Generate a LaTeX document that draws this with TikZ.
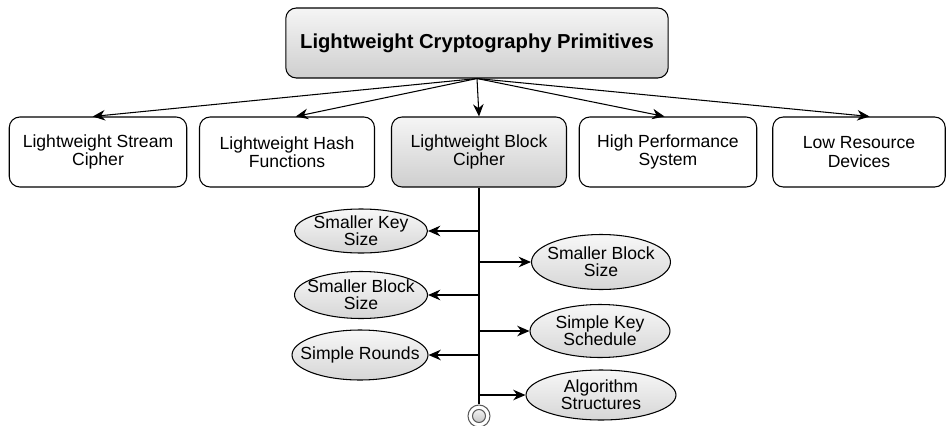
\documentclass[tikz,border=0pt]{standalone}
\usepackage{fontspec}
\setmainfont{Liberation Sans}
\usetikzlibrary{shapes.geometric,arrows.meta}

\begin{document}
\begin{tikzpicture}[x=0.02cm, y=-0.02cm, line width=0.6pt,
  every node/.style={font=\fontsize{10}{10.5}\selectfont},
  box/.style={draw, rounded corners=6pt, minimum width=3.55cm, minimum height=1.4cm, align=center},
  shadebox/.style={box, top color=gray!8, bottom color=gray!38},
  feat/.style={ellipse, draw, top color=gray!6, bottom color=gray!32, minimum width=2.7cm, minimum height=0.95cm},
  ftext/.style={align=center, font=\fontsize{10}{9.5}\selectfont},
  link/.style={-{Stealth[length=7pt,width=6pt]}}]
\useasboundingbox (0,0) rectangle (947,426);
\node[shadebox, minimum width=7.65cm, font=\fontsize{11.5}{13}\selectfont\bfseries] (top) at (477,43) {Lightweight Cryptography Primitives};
\node[box] (b1) at (98,152) {Lightweight Stream\\Cipher};
\node[box, minimum width=3.5cm] (b2) at (287,152) {Lightweight Hash\\Functions};
\node[shadebox, minimum width=3.5cm] (b3) at (479,152) {Lightweight Block\\Cipher};
\node[box] (b4) at (668,152) {High Performance\\System};
\node[box, minimum width=3.45cm] (b5) at (859,152) {Low Resource\\Devices};

\foreach \b/\dx in {b1/-3pt,b2/5pt,b3/0pt,b4/-2pt,b5/6pt}
  \draw[link] (top.south) -- ([xshift=\dx]\b.north);

\node[circle, draw=gray!70!black, minimum size=0.44cm, inner sep=0pt] (endpt) at (479,416) {};
\node[circle, draw=gray!70!black, top color=gray!10, bottom color=gray!45, minimum size=0.26cm, inner sep=0pt] (endin) at (endpt) {};
\draw (b3.south) -- (endpt.north);

\node[feat, minimum width=2.66cm, minimum height=0.88cm, label={[ftext]center:Smaller Key\\Size}] (l1) at (361,231) {};
\node[feat, minimum width=2.66cm, minimum height=0.94cm, label={[ftext]center:Smaller Block\\Size}] (l2) at (361,295) {};
\node[feat, minimum width=2.72cm, minimum height=1.0cm, label={[ftext]center:Simple Rounds}] (l3) at (360,355) {};
\node[feat, minimum width=2.78cm, minimum height=1.1cm, label={[ftext]center:Smaller Block\\Size}] (r1) at (601,262) {};
\node[feat, minimum width=2.8cm, minimum height=1.06cm, label={[ftext]center:Simple Key\\Schedule}] (r2) at (600,331) {};
\node[feat, minimum width=3.0cm, minimum height=1.0cm, label={[ftext]center:Algorithm\\Structures}] (r3) at (601,395) {};

\foreach \k in {l1,l2,l3}
  \draw[link] (b3.south |- \k.east) -- (\k.east);
\foreach \k in {r1,r2,r3}
  \draw[link] (b3.south |- \k.west) -- (\k.west);
\end{tikzpicture}
\end{document}
